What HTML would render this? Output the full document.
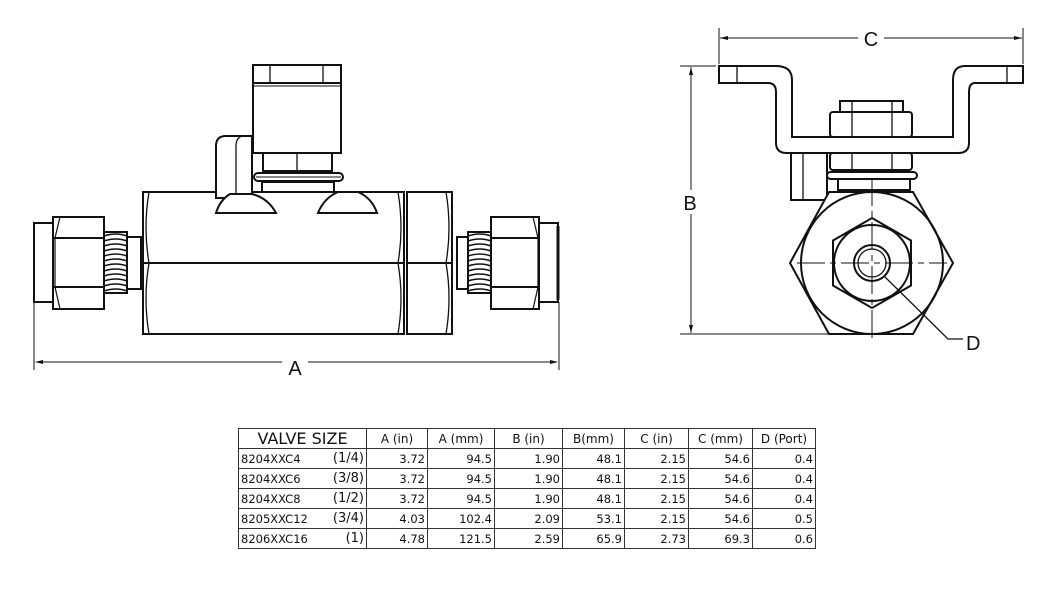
<!DOCTYPE html>
<html><head><meta charset="utf-8"><style>
html,body{margin:0;padding:0;background:#fff;}
body{width:1046px;height:607px;overflow:hidden;position:relative;font-family:"Liberation Sans","DejaVu Sans",sans-serif;}
svg{position:absolute;left:0;top:0;}
table{position:absolute;left:238px;top:428px;border-collapse:collapse;font-family:"DejaVu Sans","Liberation Sans",sans-serif;font-size:11.5px;color:#111;}
td{border:1px solid #333;height:19px;padding:0 2px;text-align:right;line-height:18px;white-space:nowrap;}
tr.h td{text-align:center;font-size:12px;}
tr.h td.vs{font-size:16px;}
td.m{text-align:left;border-right:none;}
td.s{border-left:none;font-size:13px;}
</style></head><body>
<svg width="1046" height="607" viewBox="0 0 1046 607" fill="none" stroke="#111" stroke-width="2">
<!-- LEFT VIEW -->
<rect x="34" y="223" width="19" height="79" fill="#fff"/>
<rect x="53" y="217" width="51" height="92" fill="#fff"/>
<line x1="53" y1="238" x2="104" y2="238"/><line x1="53" y1="287" x2="104" y2="287"/>
<path d="M60 217 L55 238 L55 287 L60 309" stroke-width="1.2"/>
<rect x="104" y="232" width="23" height="61" fill="#fff"/>
<g stroke-width="1.5">
<path d="M104 236 q12 -4 23 0 M104 241 q12 -4 23 0 M104 246 q12 -4 23 0 M104 251 q12 -4 23 0 M104 256 q12 -4 23 0 M104 261 q12 -4 23 0 M104 266 q12 -4 23 0 M104 271 q12 -4 23 0 M104 276 q12 -4 23 0 M104 281 q12 -4 23 0 M104 286 q12 -4 23 0 M104 291 q12 -4 23 0"/>
</g>
<rect x="127" y="237" width="14" height="52" fill="#fff"/>
<rect x="143" y="192" width="261" height="142" fill="#fff"/>
<line x1="143" y1="263" x2="404" y2="263"/>
<path d="M149 192 Q143 228 149 263 Q143 298 149 334 M398 192 Q404 228 398 263 Q404 298 398 334" stroke-width="1.3"/>
<rect x="407" y="192" width="45" height="142" fill="#fff"/>
<line x1="407" y1="263" x2="452" y2="263"/>
<path d="M446 192 Q452 228 446 263 Q452 298 446 334" stroke-width="1.3"/>
<rect x="457" y="237" width="11" height="52" fill="#fff"/>
<rect x="468" y="232" width="23" height="61" fill="#fff"/>
<g stroke-width="1.5">
<path d="M468 236 q12 -4 23 0 M468 241 q12 -4 23 0 M468 246 q12 -4 23 0 M468 251 q12 -4 23 0 M468 256 q12 -4 23 0 M468 261 q12 -4 23 0 M468 266 q12 -4 23 0 M468 271 q12 -4 23 0 M468 276 q12 -4 23 0 M468 281 q12 -4 23 0 M468 286 q12 -4 23 0 M468 291 q12 -4 23 0"/>
</g>
<rect x="491" y="217" width="48" height="92" fill="#fff"/>
<line x1="491" y1="238" x2="539" y2="238"/><line x1="491" y1="287" x2="539" y2="287"/>
<path d="M533 217 L538 238 L538 287 L533 309" stroke-width="1.2"/>
<rect x="539" y="223" width="19" height="79" fill="#fff"/>
<line x1="558" y1="226" x2="558" y2="300" stroke-width="3"/>
<!-- handle -->
<rect x="253" y="65" width="88" height="88" fill="#fff"/>
<line x1="253" y1="83" x2="341" y2="83"/><line x1="253" y1="86" x2="341" y2="86" stroke-width="1"/>
<line x1="270" y1="65" x2="270" y2="83" stroke-width="1.3"/><line x1="323" y1="65" x2="323" y2="83" stroke-width="1.3"/>
<rect x="263" y="153" width="69" height="18" fill="#fff"/>
<line x1="297" y1="153" x2="297" y2="171" stroke-width="1.3"/>
<rect x="254" y="173" width="89" height="8" rx="4" fill="#fff"/>
<line x1="256" y1="177" x2="341" y2="177" stroke-width="1"/>
<rect x="262" y="182" width="72" height="10" fill="#fff"/>
<path d="M216 198 L216 146 Q216 136 226 136 L252 136 L252 198 Z" fill="#fff"/>
<path d="M242 136 Q236 138 236 146 L236 198" stroke-width="1.3"/>
<path d="M216 213 L276 213 Q268 198 252 194 L230 194 Q220 200 216 213 Z" fill="#fff"/>
<path d="M318 213 L377 213 Q372 198 358 192 L338 192 Q324 198 318 213 Z" fill="#fff"/>
<!-- A dim -->
<g stroke-width="1">
<line x1="34" y1="302" x2="34" y2="370"/><line x1="559" y1="302" x2="559" y2="370"/>
<line x1="36" y1="362" x2="282" y2="362"/><line x1="308" y1="362" x2="557" y2="362"/>
</g>
<path d="M35 362 l8 -2 v4 z M558 362 l-8 -2 v4 z" fill="#111" stroke="none"/>
<text x="295" y="375" font-size="20" fill="#111" stroke="none" text-anchor="middle" font-family="Liberation Sans,sans-serif">A</text>

<!-- RIGHT VIEW -->
<path d="M719 66 L776 66 Q792 66 792 80 L792 137 L953 137 L953 80 Q953 66 965 66 L1023 66 L1023 83 L975 83 Q969 83 969 92 L969 143 Q969 153 958 153 L787 153 Q776 153 776 143 L776 92 Q776 83 768 83 L719 83 Z" fill="#fff"/>
<line x1="737" y1="66" x2="737" y2="83" stroke-width="1.3"/><line x1="1007" y1="66" x2="1007" y2="83" stroke-width="1.3"/>
<rect x="840" y="101" width="63" height="11" fill="#fff"/>
<rect x="830" y="112" width="82" height="25" rx="3" fill="#fff"/>
<line x1="852" y1="101" x2="852" y2="137" stroke-width="1.3"/><line x1="892" y1="101" x2="892" y2="137" stroke-width="1.3"/>
<rect x="830" y="153" width="82" height="17" rx="3" fill="#fff"/>
<line x1="852" y1="153" x2="852" y2="170" stroke-width="1.3"/><line x1="892" y1="153" x2="892" y2="170" stroke-width="1.3"/>
<rect x="791" y="153" width="36" height="47" fill="#fff"/>
<line x1="803" y1="153" x2="803" y2="200" stroke-width="1.3"/>
<rect x="827" y="172" width="90" height="7" rx="3.5" fill="#fff"/>
<rect x="838" y="179" width="72" height="11" fill="#fff"/>
<polygon points="790,263 829,192 913,192 953,263 913,334 829,334" fill="#fff"/>
<circle cx="872" cy="263" r="71"/>
<polygon points="872,218 911,240.5 911,285.5 872,308 833,285.5 833,240.5" fill="#fff"/>
<circle cx="872" cy="263" r="38"/>
<circle cx="872" cy="263" r="18"/>
<circle cx="872" cy="263" r="14" stroke-width="1.3"/>
<g stroke-width="1" stroke-dasharray="28,5,6,5">
<line x1="797" y1="263" x2="947" y2="263"/>
<line x1="872" y1="178" x2="872" y2="338"/>
</g>
<polyline points="884,276 948,339 963,339" stroke-width="1.3"/>
<text x="966" y="350" font-size="20" fill="#111" stroke="none" font-family="Liberation Sans,sans-serif">D</text>
<!-- C dim -->
<g stroke-width="1">
<line x1="719" y1="28" x2="719" y2="64"/><line x1="1023" y1="28" x2="1023" y2="64"/>
<line x1="720" y1="38" x2="858" y2="38"/><line x1="884" y1="38" x2="1022" y2="38"/>
</g>
<path d="M720 38 l8 -2 v4 z M1022 38 l-8 -2 v4 z" fill="#111" stroke="none"/>
<text x="871" y="46" font-size="20" fill="#111" stroke="none" text-anchor="middle" font-family="Liberation Sans,sans-serif">C</text>
<!-- B dim -->
<g stroke-width="1">
<line x1="680" y1="66" x2="716" y2="66"/><line x1="680" y1="334" x2="828" y2="334"/>
<line x1="691" y1="67" x2="691" y2="190"/><line x1="691" y1="214" x2="691" y2="333"/>
</g>
<path d="M691 67 l-2 8 h4 z M691 333 l-2 -8 h4 z" fill="#111" stroke="none"/>
<text x="690" y="210" font-size="20" fill="#111" stroke="none" text-anchor="middle" font-family="Liberation Sans,sans-serif">B</text>
</svg>
<table>
<colgroup><col style="width:83px"><col style="width:45px"><col style="width:61px"><col style="width:67px"><col style="width:68px"><col style="width:62px"><col style="width:64px"><col style="width:64px"><col style="width:63px"></colgroup>
<tr class="h"><td class="vs" colspan="2" style="text-align:center">VALVE SIZE</td><td>A (in)</td><td>A (mm)</td><td>B (in)</td><td>B(mm)</td><td>C (in)</td><td>C (mm)</td><td>D (Port)</td></tr>
<tr><td class="m">8204XXC4</td><td class="s">(1/4)</td><td>3.72</td><td>94.5</td><td>1.90</td><td>48.1</td><td>2.15</td><td>54.6</td><td>0.4</td></tr>
<tr><td class="m">8204XXC6</td><td class="s">(3/8)</td><td>3.72</td><td>94.5</td><td>1.90</td><td>48.1</td><td>2.15</td><td>54.6</td><td>0.4</td></tr>
<tr><td class="m">8204XXC8</td><td class="s">(1/2)</td><td>3.72</td><td>94.5</td><td>1.90</td><td>48.1</td><td>2.15</td><td>54.6</td><td>0.4</td></tr>
<tr><td class="m">8205XXC12</td><td class="s">(3/4)</td><td>4.03</td><td>102.4</td><td>2.09</td><td>53.1</td><td>2.15</td><td>54.6</td><td>0.5</td></tr>
<tr><td class="m">8206XXC16</td><td class="s">(1)</td><td>4.78</td><td>121.5</td><td>2.59</td><td>65.9</td><td>2.73</td><td>69.3</td><td>0.6</td></tr>
</table>
</body></html>
